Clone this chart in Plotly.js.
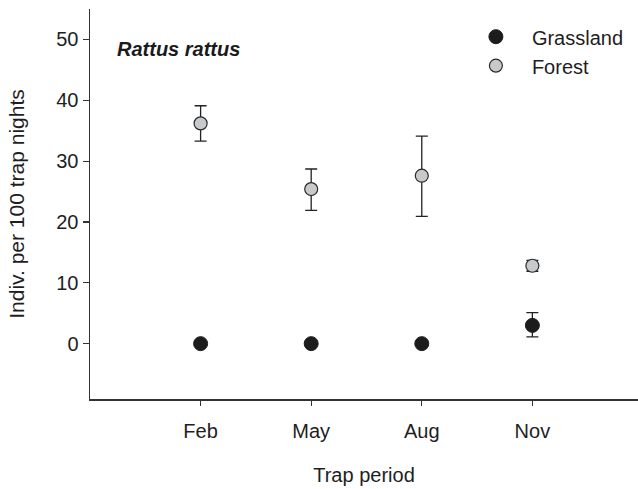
<!DOCTYPE html>
<html>
<head>
<meta charset="utf-8">
<script src="https://cdn.plot.ly/plotly-3.0.1.min.js"></script>
<style>html,body{margin:0;padding:0;background:#fff;}#chart{width:638px;height:489px;}</style>
</head>
<body>
<div id="chart"></div>
<script>
// Data
const periods = ["Feb", "May", "Aug", "Nov"];
const periodPos = [1, 2, 3, 4];
const grassland = [0, 0, 0, 3.0];
const grasslandErrPlus = [0, 0, 0, 2.1];
const grasslandErrMinus = [0, 0, 0, 1.9];
const forest = [36.2, 25.4, 27.6, 12.8];
const forestErrPlus = [2.9, 3.3, 6.5, 0.9];
const forestErrMinus = [2.9, 3.5, 6.7, 0.9];
const yTicks = [0, 10, 20, 30, 40, 50];

const font = "Liberation Sans, Arial, Helvetica, sans-serif";

const traces = [
  {
    name: "Grassland", x: periodPos, y: grassland, type: "scatter", mode: "markers",
    marker: {size: 14, color: "#1c1c1c", line: {color: "#1c1c1c", width: 1}},
    error_y: {type: "data", symmetric: false, array: grasslandErrPlus, arrayminus: grasslandErrMinus,
      color: "#222", thickness: 1.3, width: 6}
  },
  {
    name: "Forest", x: periodPos, y: forest, type: "scatter", mode: "markers",
    marker: {size: 13, color: "#c8c9cb", line: {color: "#2a2a2a", width: 1.2}},
    error_y: {type: "data", symmetric: false, array: forestErrPlus, arrayminus: forestErrMinus,
      color: "#222", thickness: 1.3, width: 6}
  }
];

const layout = {
  width: 638, height: 489,
  margin: {l: 90, r: 0, t: 9, b: 90},
  paper_bgcolor: "#fff", plot_bgcolor: "#fff",
  font: {family: font, size: 20, color: "#1e1e1e"},
  showlegend: true,
  legend: {x: 0.675, y: 0.979, xanchor: "left", yanchor: "top", bgcolor: "rgba(0,0,0,0)",
    font: {family: font, size: 20, color: "#1e1e1e"}, itemwidth: 62, tracegroupgap: 0},
  xaxis: {
    range: [0, 4.955], tickvals: periodPos, ticktext: periods,
    showgrid: false, zeroline: false, showline: true, linecolor: "#333", linewidth: 1.5,
    ticks: "outside", ticklen: 5, tickcolor: "#333", tickwidth: 1.2,
    ticklabelstandoff: 8,
    tickfont: {family: font, size: 20, color: "#1e1e1e"},
    title: {text: "Trap period", font: {family: font, size: 20, color: "#1e1e1e"}, standoff: 27}
  },
  yaxis: {
    range: [-9.1, 55], tickvals: yTicks,
    showgrid: false, zeroline: false, showline: true, linecolor: "#333", linewidth: 1.5,
    ticks: "outside", ticklen: 6, tickcolor: "#333", tickwidth: 1.2,
    tickfont: {family: font, size: 20, color: "#1e1e1e"},
    title: {text: "Indiv. per 100 trap nights", font: {family: font, size: 21, color: "#1e1e1e"}, standoff: 26}
  },
  annotations: [{
    text: "<b><i>Rattus rattus</i></b>", xref: "paper", yref: "paper",
    x: 0.046, y: 0.898, xanchor: "left", yanchor: "middle", showarrow: false,
    font: {family: font, size: 20, color: "#1a1a1a"}
  }]
};

Plotly.newPlot("chart", traces, layout, {displayModeBar: false, staticPlot: true});
</script>
</body>
</html>
